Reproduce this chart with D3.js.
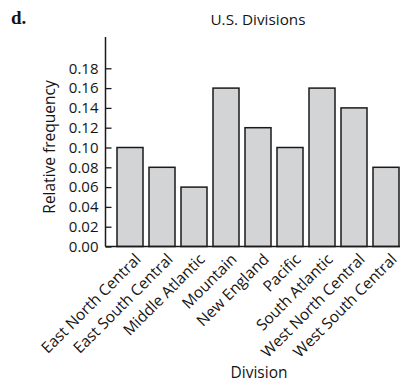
<!DOCTYPE html>
<html><head><meta charset="utf-8">
<script src="https://cdn.jsdelivr.net/npm/d3@7"></script>
<style>
body{margin:0;background:#fff;}
text{font-family:"Open Sans",sans-serif;fill:#141414;}
</style></head>
<body><svg id="c" width="404" height="383"></svg>
<script>
const categories = ["East North Central","East South Central","Middle Atlantic","Mountain","New England","Pacific","South Atlantic","West North Central","West South Central"];
const values = [0.10,0.08,0.06,0.16,0.12,0.10,0.16,0.14,0.08];
const yTicks = [0,0.02,0.04,0.06,0.08,0.10,0.12,0.14,0.16,0.18];

const svg = d3.select("#c");
const axisX = 105.5, baseY = 246.5, topY = 37;
const y = d3.scaleLinear().domain([0,0.18]).range([baseY,68.3]);
const x = d3.scaleBand().domain(categories).range([117, 117+32*(9-0.1875)]).paddingInner(0.1875).paddingOuter(0);

// bars
svg.append("g").selectAll("rect").data(values).join("rect")
  .attr("x",(d,i)=>x(categories[i]))
  .attr("y",d=>y(d))
  .attr("width",x.bandwidth())
  .attr("height",d=>baseY-y(d))
  .attr("fill","#d3d4d6").attr("stroke","#1a1a1a").attr("stroke-width",1.5);

// y axis
const ya = svg.append("g").attr("transform",`translate(${axisX},0)`)
  .call(d3.axisLeft(y).tickValues(yTicks).tickFormat(d3.format(".2f")).tickSizeInner(-6).tickSizeOuter(0).tickPadding(7));
ya.select(".domain").remove();
ya.selectAll("line").attr("stroke","#1a1a1a").attr("stroke-width",1.3);
ya.selectAll("text").style("font-size","15px").attr("fill","#141414");
svg.append("line").attr("x1",axisX).attr("x2",axisX).attr("y1",topY).attr("y2",baseY).attr("stroke","#1a1a1a").attr("stroke-width",1.5);
svg.append("line").attr("x1",axisX).attr("x2",400).attr("y1",baseY).attr("y2",baseY).attr("stroke","#1a1a1a").attr("stroke-width",1.5);

// x labels
svg.append("g").selectAll("text").data(categories).join("text")
  .attr("transform",d=>`translate(${x(d)+x.bandwidth()/2+8},${baseY+10}) rotate(-45)`)
  .attr("text-anchor","end").attr("dy","0.35em")
  .style("font-size","15.5px").text(d=>d);

// titles
svg.append("text").attr("x",258).attr("y",25).attr("text-anchor","middle").style("font-size","15.3px").text("U.S. Divisions");
svg.append("text").attr("x",259).attr("y",378).attr("text-anchor","middle").style("font-size","15.5px").text("Division");
svg.append("text").attr("transform","translate(55,147) rotate(-90)").attr("text-anchor","middle").style("font-size","15.5px").text("Relative frequency");
svg.append("text").attr("x",11).attr("y",24).style("font-family","'Liberation Serif',serif").style("font-weight","bold").style("font-size","19px").text("d.");
</script></body></html>
